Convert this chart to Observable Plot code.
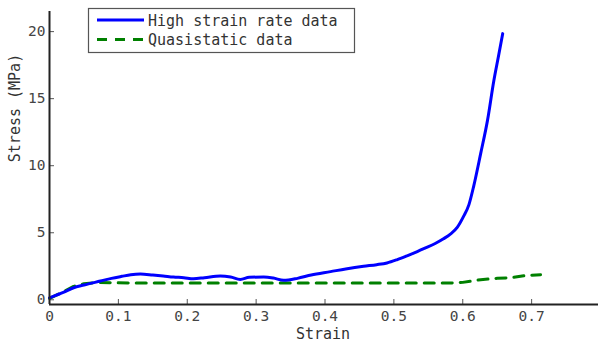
<!DOCTYPE html>
<html>
<head>
<meta charset="utf-8">
<script src="https://cdn.jsdelivr.net/npm/d3@7"></script>
<script src="https://cdn.jsdelivr.net/npm/@observablehq/plot@0.6"></script>
<style>
  html, body { margin: 0; padding: 0; background: #fff; }
  #chart { width: 598px; height: 342px; }
</style>
</head>
<body>
<div id="chart"></div>
<script>
// High strain rate data
const hsStrain = [0, 0.01, 0.02, 0.035, 0.05, 0.074, 0.09, 0.105, 0.118, 0.132, 0.15, 0.165, 0.18, 0.195, 0.209, 0.225, 0.248, 0.263, 0.277, 0.29, 0.311, 0.325, 0.34, 0.36, 0.38, 0.408, 0.43, 0.456, 0.475, 0.49, 0.505, 0.52, 0.534, 0.545, 0.56, 0.572, 0.582, 0.592, 0.601, 0.609, 0.616, 0.626, 0.636, 0.645, 0.652, 0.658];
const hsStress = [0.15, 0.35, 0.55, 0.9, 1.1, 1.4, 1.6, 1.75, 1.87, 1.92, 1.85, 1.78, 1.7, 1.65, 1.57, 1.65, 1.78, 1.7, 1.52, 1.68, 1.7, 1.62, 1.45, 1.6, 1.85, 2.1, 2.3, 2.5, 2.62, 2.75, 3.0, 3.3, 3.6, 3.85, 4.2, 4.55, 4.9, 5.4, 6.2, 7.1, 8.5, 10.9, 13.4, 16.3, 18.2, 19.85];
// Quasistatic data
const qsStrain = [0, 0.02, 0.035, 0.05, 0.07, 0.09, 0.12, 0.2, 0.3, 0.4, 0.5, 0.58, 0.6, 0.626, 0.65, 0.67, 0.69, 0.713];
const qsStress = [0.1, 0.6, 1.0, 1.2, 1.3, 1.27, 1.25, 1.25, 1.25, 1.25, 1.25, 1.25, 1.3, 1.5, 1.6, 1.65, 1.8, 1.87];

const xTicks = [0, 0.1, 0.2, 0.3, 0.4, 0.5, 0.6, 0.7];
const xTickLabels = ["0", "0.1", "0.2", "0.3", "0.4", "0.5", "0.6", "0.7"];
const yTicks = [0, 5, 10, 15, 20];
const seriesNames = ["High strain rate data", "Quasistatic data"];
const xTitle = "Strain";
const yTitle = "Stress (MPa)";

const hs = hsStrain.map((x, i) => ({x, y: hsStress[i]}));
const qs = qsStrain.map((x, i) => ({x, y: qsStress[i]}));

const font = "'DejaVu Sans Mono', monospace";
const yMin = -0.35, yMax = 21.5;

const plot = Plot.plot({
  width: 598,
  height: 342,
  marginLeft: 49,
  marginRight: -2,
  marginTop: 11,
  marginBottom: 38,
  style: {fontFamily: font, fontSize: "14.5px", color: "#444", background: "#fff"},
  x: {domain: [0, 0.8]},
  y: {domain: [yMin, yMax]},
  marks: [
    Plot.axisX({ticks: xTicks, tickFormat: (d) => xTickLabels[xTicks.indexOf(d)], tickSize: -5, tickPadding: 11, label: null, stroke: "#555", fill: "#444"}),
    Plot.axisY({ticks: yTicks, tickSize: -5, tickPadding: 9, label: null, stroke: "#555", fill: "#444"}),
    Plot.line(qs, {x: "x", y: "y", stroke: "#008000", strokeWidth: 3, strokeDasharray: "10,8"}),
    Plot.line(hs, {x: "x", y: "y", stroke: "#0000ff", strokeWidth: 3, curve: "monotone-x"}),
    Plot.ruleX([0], {y1: yMin, y2: yMax, stroke: "#222", strokeWidth: 2}),
    Plot.ruleY([yMin], {stroke: "#222", strokeWidth: 2})
  ]
});

document.getElementById("chart").appendChild(plot);

// axis titles and legend (layout only)
const svg = d3.select(plot);
svg.append("text")
  .attr("x", 323).attr("y", 338.5)
  .attr("text-anchor", "middle")
  .attr("font-family", font).attr("font-size", 15).attr("fill", "#333")
  .text(xTitle);
svg.append("text")
  .attr("transform", "translate(20,108) rotate(-90)")
  .attr("text-anchor", "middle")
  .attr("font-family", font).attr("font-size", 15).attr("fill", "#333")
  .text(yTitle);

const lg = svg.append("g");
lg.append("rect").attr("x", 88.5).attr("y", 8.5).attr("width", 266).attr("height", 44)
  .attr("fill", "#fff").attr("stroke", "#555").attr("stroke-width", 1.2);
const styles = [{stroke: "#0000ff", dash: null}, {stroke: "#008000", dash: "10,8"}];
seriesNames.forEach((name, i) => {
  const cy = 20 + i * 19.5;
  lg.append("line").attr("x1", 97).attr("x2", 144).attr("y1", cy).attr("y2", cy)
    .attr("stroke", styles[i].stroke).attr("stroke-width", 3)
    .attr("stroke-dasharray", styles[i].dash);
  lg.append("text").attr("x", 148).attr("y", cy + 5.5)
    .attr("text-anchor", "start")
    .attr("font-family", font).attr("font-size", 15).attr("fill", "#333")
    .text(name);
});
</script>
</body>
</html>
